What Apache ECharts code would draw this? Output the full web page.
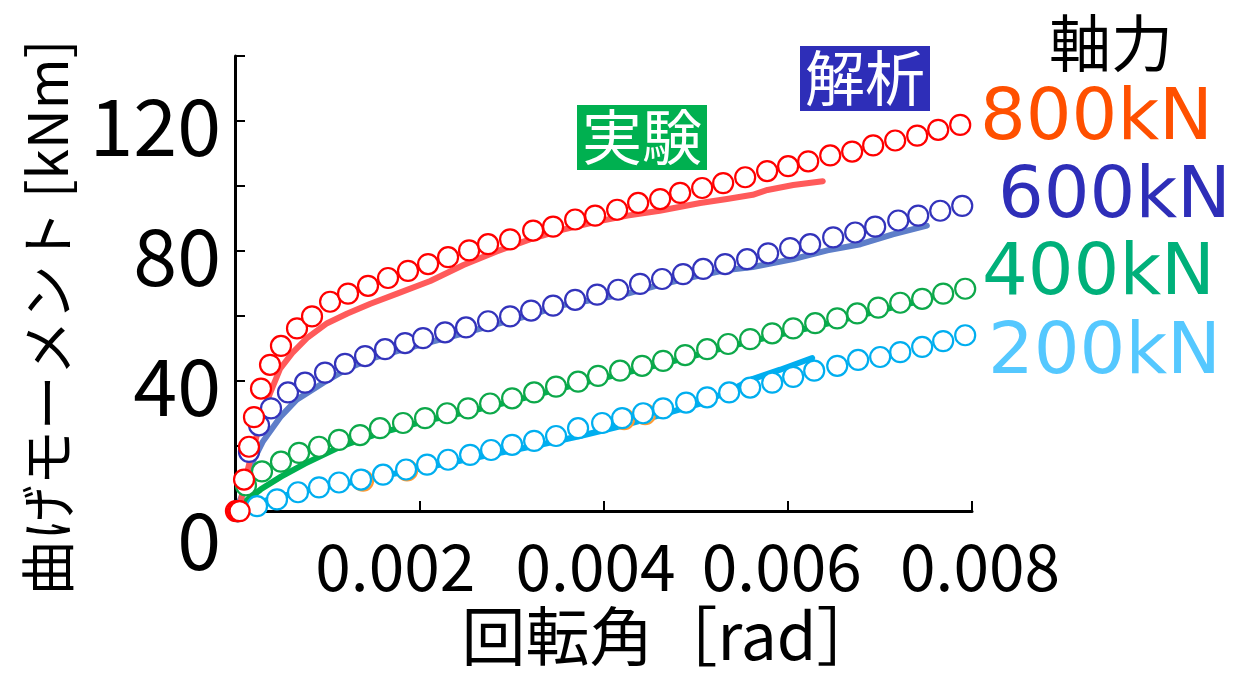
<!DOCTYPE html>
<html>
<head>
<meta charset="utf-8">
<script src="https://cdn.jsdelivr.net/npm/echarts@6/dist/echarts.min.js"></script>
<style>
  html, body { margin: 0; padding: 0; background: #fff; }
  #chart { width: 1233px; height: 673px; }
</style>
</head>
<body>
<div id="chart"></div>
<script>
// Rotation angle [rad] vs bending moment [kNm], axial forces 200-800 kN.
// 解析 (analysis): hollow circle markers. 実験 (experiment): thick lines.

const xTicks = [0.002, 0.004, 0.006, 0.008];
const yTickLabels = [0, 40, 80, 120];
const axialLabels = ['800kN', '600kN', '400kN', '200kN'];

// --- analysis points [rotation, moment] ---
const analysis800 = [
  [0.00001, 0], [0.00003, 0], [0.00005, 0], [0.000098, 9.7], [0.000152, 19.8], [0.000206, 28.9],
  [0.000282, 37.7], [0.00038, 45.0], [0.000499, 50.8], [0.000673, 56.2], [0.000836, 59.9],
  [0.001032, 64.4], [0.001227, 66.9], [0.001444, 69.3], [0.001661, 71.7], [0.001878, 73.9],
  [0.002096, 76.0], [0.002313, 78.1], [0.002541, 80.2], [0.002747, 82.1], [0.002986, 83.6],
  [0.003236, 86.3], [0.003453, 87.5], [0.003692, 89.7], [0.003909, 90.9], [0.004148, 92.7],
  [0.004376, 94.8], [0.004615, 96.0], [0.004832, 97.9], [0.005071, 99.4], [0.005299, 100.9],
  [0.005538, 102.7], [0.005776, 104.6], [0.006004, 106.1], [0.006222, 107.6], [0.006461, 109.4],
  [0.006699, 110.6], [0.006927, 112.5], [0.007166, 114.0], [0.007405, 115.5], [0.007633, 117.3],
  [0.007872, 118.8]
];
const analysis600 = [
  [0.00003, 0], [0.000152, 18.2], [0.000261, 26.4], [0.000391, 31.6], [0.000575, 36.5],
  [0.00076, 39.5], [0.000977, 42.6], [0.001194, 45.3], [0.001412, 47.7], [0.001629, 49.8],
  [0.001846, 51.7], [0.002041, 53.2], [0.00228, 55.0], [0.002508, 56.5], [0.002747, 58.4],
  [0.002986, 59.9], [0.003214, 61.7], [0.003453, 63.2], [0.003692, 65.0], [0.003931, 66.6],
  [0.004159, 68.1], [0.004397, 69.9], [0.004636, 71.4], [0.004864, 72.9], [0.005082, 74.5],
  [0.00532, 76.0], [0.005559, 77.5], [0.005787, 79.3], [0.006026, 80.9], [0.006243, 82.1],
  [0.006493, 84.2], [0.006732, 85.7], [0.006949, 87.5], [0.007199, 89.4], [0.007416, 90.9],
  [0.007655, 92.4], [0.007894, 93.9]
];
const analysis400 = [
  [0.00003, 0], [0.000119, 7.9], [0.000293, 12.2], [0.000499, 15.2], [0.000695, 17.9],
  [0.000912, 19.8], [0.001129, 21.9], [0.001357, 23.4], [0.001574, 25.5], [0.001824, 27.1],
  [0.002063, 28.6], [0.002302, 30.1], [0.00253, 31.6], [0.002769, 33.1], [0.003008, 34.7],
  [0.003247, 36.5], [0.003485, 38.3], [0.003724, 39.8], [0.003941, 41.6], [0.00418, 43.2],
  [0.004419, 44.7], [0.004647, 46.2], [0.004886, 48.0], [0.005125, 49.8], [0.005353, 51.4],
  [0.005592, 52.9], [0.005831, 54.7], [0.006059, 56.2], [0.006298, 57.8], [0.006537, 59.3],
  [0.006754, 60.8], [0.006982, 62.6], [0.007221, 64.1], [0.007459, 65.3], [0.007687, 66.9],
  [0.007926, 68.4]
];
const analysis200 = [
  [0.00003, 0], [0.000239, 1.5], [0.000456, 3.6], [0.000684, 5.8], [0.000912, 7.3],
  [0.001129, 8.8], [0.001368, 9.7], [0.001607, 11.2], [0.001857, 12.8], [0.002085, 14.3],
  [0.002313, 15.8], [0.002552, 17.3], [0.00278, 18.8], [0.003008, 20.4], [0.003247, 21.6],
  [0.003485, 23.1], [0.003724, 25.5], [0.003985, 27.1], [0.004202, 28.6], [0.00443, 30.1],
  [0.004647, 31.6], [0.004897, 33.4], [0.005125, 35.0], [0.005364, 36.5], [0.005592, 38.0],
  [0.005831, 39.5], [0.006059, 41.3], [0.006287, 43.2], [0.006537, 44.7], [0.006764, 46.5],
  [0.007003, 47.4], [0.007221, 48.9], [0.007459, 50.5], [0.007687, 52.3], [0.007926, 54.1]
];
// a few orange points sitting just behind the 200kN markers
const analysisExtra = [
  [0.00139, 9.4], [0.001868, 12.5], [0.004224, 28.3], [0.004452, 29.8]
];

// --- experiment curves [rotation, moment] ---
const test800 = [
  [0, 0], [0.00005, 1.2], [0.0001, 8.2], [0.00016, 15.2], [0.00022, 21.3], [0.00027, 27.4],
  [0.00033, 32.5], [0.00038, 36.2], [0.00049, 43.8], [0.00062, 48.6], [0.00078, 53.2],
  [0.001, 57.8], [0.00122, 60.8], [0.00147, 63.8], [0.00176, 66.9], [0.00212, 70.8],
  [0.00248, 75.7], [0.00284, 79.9], [0.0032, 83.6], [0.00356, 86.6], [0.00393, 89.1],
  [0.00426, 90.9], [0.00461, 92.4], [0.00505, 94.8], [0.00534, 96.0], [0.00562, 97.3],
  [0.00578, 98.8], [0.00606, 100.3], [0.00638, 101.5]
];
const test600 = [
  [0, 0], [0.00007, 4.3], [0.00016, 13.4], [0.0003, 21.3], [0.00049, 28.9], [0.00067, 34.3],
  [0.00096, 39.5], [0.00122, 43.8], [0.00147, 46.8], [0.00176, 49.2], [0.00204, 51.4],
  [0.00244, 54.4], [0.00288, 57.8], [0.0032, 60.2], [0.00353, 63.2], [0.00389, 65.0],
  [0.00426, 66.9], [0.00461, 69.6], [0.00497, 72.0], [0.00534, 74.2], [0.00562, 75.1],
  [0.00606, 77.5], [0.00643, 80.2], [0.00679, 82.1], [0.00714, 85.1], [0.00751, 87.8]
];
const test400 = [
  [0, 0], [0.00007, 2.1], [0.00028, 6.7], [0.0005, 10.6], [0.00076, 14.6], [0.00114, 19.8],
  [0.00157, 24.0], [0.00206, 27.7], [0.00255, 30.7], [0.00299, 33.7], [0.00353, 37.7],
  [0.00396, 40.7], [0.00442, 43.8], [0.00489, 47.1], [0.00535, 50.5], [0.00583, 53.8],
  [0.0063, 56.8], [0.00675, 59.9], [0.00722, 63.2], [0.00755, 65.3]
];
const test200 = [
  [0, 0], [0.000109, 1.5], [0.00038, 3.6], [0.000706, 6.1], [0.00114, 8.2], [0.001574, 10.6],
  [0.002009, 13.1], [0.002443, 15.5], [0.002877, 17.9], [0.003312, 20.4], [0.003746, 23.1],
  [0.00418, 26.1], [0.004615, 29.5], [0.005049, 33.1], [0.005375, 37.1], [0.005624, 40.7],
  [0.005918, 43.5], [0.006265, 47.1]
];

const FONT = '"Noto Sans CJK JP", "Noto Sans", sans-serif';
const LATIN = '"DejaVu Sans", sans-serif';

function lineSeries(name, data, color) {
  return {
    name, type: 'line', data, showSymbol: false, symbol: 'none',
    lineStyle: { color, width: 6, cap: 'round', join: 'round' }, z: 2, silent: true
  };
}
function markerSeries(name, data, color, z) {
  return {
    name, type: 'scatter', data, symbol: 'circle', symbolSize: 20,
    itemStyle: { color: '#ffffff', borderColor: color, borderWidth: 2.2, opacity: 1 }, z, silent: true
  };
}

const chart = echarts.init(document.getElementById('chart'), null, { renderer: 'canvas' });

const legendColors = ['#FF5000', '#2E2EB8', '#00B07A', '#55C8FF'];
const legendTops = [84, 162, 239, 318];
const legendLefts = [980, 998, 982, 988];

// horizontal nudge of each x tick label, as rich-text padding [left, right]
const xLabelPad = { '0.002': [0, 48], '0.004': [0, 16], '0.006': [0, 12], '0.008': [16, 0] };
const xRich = {};
Object.keys(xLabelPad).forEach((k, i) => {
  xRich['x' + i] = { fontSize: 64, fontFamily: FONT, color: '#000', padding: [0, xLabelPad[k][1], 0, xLabelPad[k][0]] };
});

chart.setOption({
  animation: false,
  backgroundColor: '#ffffff',
  textStyle: { fontFamily: FONT },
  grid: { left: 235, right: 261, top: 56, bottom: 156, containLabel: false },
  title: [
    { text: '実験', left: 577, top: 105, padding: [1, 5],
      backgroundColor: '#00B050',
      textStyle: { color: '#ffffff', fontSize: 60, fontWeight: 'normal', fontFamily: FONT, lineHeight: 63 } },
    { text: '解析', left: 800, top: 46, padding: [1, 5],
      backgroundColor: '#2E2EB8',
      textStyle: { color: '#ffffff', fontSize: 60, fontWeight: 'normal', fontFamily: FONT, lineHeight: 63 } },
    { text: '軸力', left: 1049, top: 8, padding: 0,
      textStyle: { color: '#000000', fontSize: 62, fontWeight: 'normal', fontFamily: FONT, lineHeight: 70 } }
  ].concat(axialLabels.map((t, i) => ({
    text: t, left: legendLefts[i], top: legendTops[i], padding: 0,
    textStyle: { color: legendColors[i], fontSize: 72, fontWeight: 'normal', fontFamily: LATIN, lineHeight: 72 }
  }))),
  xAxis: {
    type: 'value', min: 0, max: 0.008, interval: 0.002,
    name: '回転角［rad］', nameLocation: 'middle', nameGap: 88,
    nameTextStyle: { fontSize: 64, color: '#000', fontFamily: FONT, padding: [0, 0, 0, 135] },
    axisLine: { show: true, onZero: false, lineStyle: { color: '#000', width: 3 } },
    axisTick: { show: true, inside: true, length: 10, lineStyle: { color: '#000', width: 2 } },
    splitLine: { show: false },
    axisLabel: {
      color: '#000', fontSize: 64, fontFamily: FONT, margin: 24,
      formatter: v => {
        const i = xTicks.findIndex(t => Math.abs(t - v) < 1e-9);
        return i < 0 ? '' : '{x' + i + '|' + xTicks[i].toFixed(3) + '}';
      },
      rich: xRich
    }
  },
  yAxis: {
    type: 'value', min: 0, max: 140, interval: 20,
    name: '曲げモーメント [kNm]', nameLocation: 'middle', nameGap: 160, nameRotate: 90,
    nameTextStyle: { fontSize: 55, color: '#000', fontFamily: FONT, padding: [0, 68, 0, 0] },
    axisLine: { show: true, onZero: false, lineStyle: { color: '#000', width: 3 } },
    axisTick: { show: true, inside: true, length: 10, lineStyle: { color: '#000', width: 2 } },
    splitLine: { show: false },
    axisLabel: {
      color: '#000', fontSize: 79, fontFamily: FONT, margin: 14,
      formatter: v => {
        if (!yTickLabels.includes(v)) return '';
        return v === 0 ? '{zero|0}' : '{num|' + v + '}';
      },
      rich: {
        zero: { fontSize: 79, fontFamily: FONT, color: '#000', padding: [58, 0, 0, 0] },
        num: { fontSize: 79, fontFamily: FONT, color: '#000', padding: [10, 0, 0, 0] }
      }
    }
  },
  series: [
    lineSeries('実験 200kN', test200, '#00AEEF'),
    lineSeries('実験 400kN', test400, '#00B050'),
    lineSeries('実験 600kN', test600, '#5E7EC9'),
    lineSeries('実験 800kN', test800, '#FF5A5A'),
    markerSeries('解析 補助', analysisExtra, '#FF9A33', 3),
    markerSeries('解析 200kN', analysis200, '#00AEEF', 4),
    markerSeries('解析 400kN', analysis400, '#0DA84A', 5),
    markerSeries('解析 600kN', analysis600, '#3333BB', 6),
    markerSeries('解析 800kN', analysis800, '#FF0000', 7)
  ]
});
</script>
</body>
</html>
